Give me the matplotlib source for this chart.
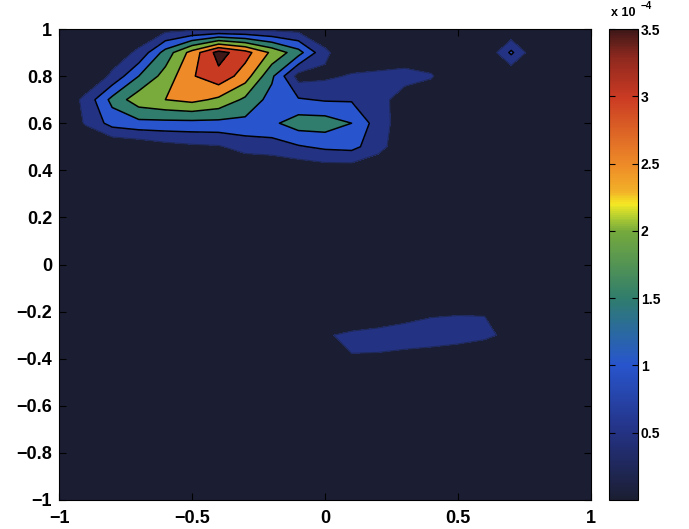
import numpy as np
import matplotlib
matplotlib.use("Agg")
import matplotlib.pyplot as plt
from matplotlib.colors import LinearSegmentedColormap, Normalize
from matplotlib.cm import ScalarMappable

# ---- data (values in units of 1e-4) ----
x_grid = np.linspace(-1.0, 1.0, 21)
y_grid = np.linspace(-1.0, 1.0, 21)

z = [0.0] * 21
row_m10 = list(z); row_m09 = list(z); row_m08 = list(z); row_m07 = list(z)
row_m06 = list(z); row_m05 = list(z)
#             -1.0 -0.9 -0.8 -0.7 -0.6 -0.5 -0.4 -0.3 -0.2 -0.1 0.0  0.1  0.2  0.3  0.4  0.5  0.6  0.7  0.8  0.9  1.0
row_m04 = [0, 0, 0, 0, 0, 0, 0, 0, 0, 0.2, 0.5, 0.47, 0.42, 0.3, 0.15, 0, 0, 0, 0, 0, 0]
row_m03 = [0, 0, 0, 0, 0, 0, 0, 0, 0, 0, 0.45, 0.6, 0.72, 0.8, 0.85, 0.8, 0.62, 0.35, 0, 0, 0]
row_m02 = [0, 0, 0, 0, 0, 0, 0, 0, 0, 0, 0, 0, 0, 0.2, 0.38, 0.44, 0.47, 0.3, 0, 0, 0]
row_m01 = list(z); row_p00 = list(z); row_p01 = list(z); row_p02 = list(z); row_p03 = list(z)
row_p04 = [0, 0, 0, 0, 0, 0, 0, 0, 0.05, 0.1, 0.2, 0.2, 0.05, 0, 0, 0, 0, 0, 0, 0, 0]
row_p05 = [0, 0, 0, 0.1, 0.3, 0.4, 0.45, 0.7, 0.75, 0.95, 1.1, 1.15, 0.7, 0.1, 0, 0, 0, 0, 0, 0, 0]
row_p06 = [0, 0.55, 1.2, 1.35, 1.35, 1.35, 1.35, 1.35, 1.4, 1.75, 1.75, 1.5, 0.75, 0.2, 0, 0, 0, 0, 0, 0, 0]
row_p07 = [0, 0.65, 1.65, 2.3, 2.5, 2.65, 2.4, 1.9, 1.3, 1.05, 0.95, 0.95, 0.65, 0.3, 0.1, 0, 0, 0, 0, 0, 0]
row_p08 = [0, 0, 0.6, 1.5, 2.2, 2.95, 3.35, 2.75, 1.6, 0.3, 0.4, 0.55, 0.6, 0.65, 0.55, 0, 0, 0, 0, 0, 0]
row_p09 = [0, 0, 0.2, 0.6, 1.7, 2.7, 3.7, 3.2, 2.4, 1.7, 0.6, 0.1, 0.15, 0.2, 0.1, 0, 0, 1.1, 0, 0, 0]
row_p10 = [0, 0, 0, 0.1, 0.3, 0.35, 0.35, 0.35, 0.35, 0.3, 0.1, 0, 0, 0, 0, 0, 0, 0, 0, 0, 0]

Z = np.array([row_m10, row_m09, row_m08, row_m07, row_m06, row_m05, row_m04,
              row_m03, row_m02, row_m01, row_p00, row_p01, row_p02, row_p03,
              row_p04, row_p05, row_p06, row_p07, row_p08, row_p09, row_p10])

levels = [0.0, 0.5, 1.0, 1.5, 2.0, 2.5, 3.0, 3.5, 4.0]
line_levels = [1.0, 1.5, 2.0, 2.5, 3.0, 3.5]
cbar_ticks = [0.5, 1.0, 1.5, 2.0, 2.5, 3.0, 3.5]
cbar_labels = ["0.5", "1", "1.5", "2", "2.5", "3", "3.5"]
x_ticks = [-1, -0.5, 0, 0.5, 1]
x_labels = ["\u22121", "\u22120.5", "0", "0.5", "1"]
y_ticks = [-1, -0.8, -0.6, -0.4, -0.2, 0, 0.2, 0.4, 0.6, 0.8, 1]
y_labels = ["\u22121", "\u22120.8", "\u22120.6", "\u22120.4", "\u22120.2", "0",
            "0.2", "0.4", "0.6", "0.8", "1"]

# ---- colormap (scanned MATLAB jet look) ----
cm_pts = [
    (0.00, (27, 30, 50)),
    (0.5 / 3.5, (36, 50, 132)),
    (1.0 / 3.5, (40, 85, 205)),
    (1.25 / 3.5, (42, 105, 160)),
    (1.5 / 3.5, (48, 125, 108)),
    (2.0 / 3.5, (118, 170, 60)),
    (2.1 / 3.5, (175, 205, 50)),
    (2.2 / 3.5, (245, 232, 35)),
    (2.3 / 3.5, (242, 175, 40)),
    (2.5 / 3.5, (238, 138, 40)),
    (3.0 / 3.5, (202, 58, 35)),
    (3.3 / 3.5, (140, 40, 30)),
    (1.00, (62, 24, 24)),
]
cmap = LinearSegmentedColormap.from_list(
    "jetscan", [(p, tuple(c / 255 for c in col)) for p, col in cm_pts])
norm = Normalize(vmin=0.0, vmax=3.5)
band_colors = [cmap(norm(min(lv, 3.5))) for lv in levels[:-1]]

plt.rcParams['font.family'] = ['Liberation Sans', 'DejaVu Sans']

fig = plt.figure(figsize=(6.89, 5.29), dpi=100)
ax = fig.add_axes([59 / 689, 29 / 529, 532 / 689, 471 / 529])
X, Y = np.meshgrid(x_grid, y_grid)
ax.contourf(X, Y, Z, levels=levels, colors=band_colors)
ax.contour(X, Y, Z, levels=line_levels, colors='black', linewidths=1.1)
ax.contour(X, Y, Z, levels=[0.5], colors=[(0.12, 0.16, 0.35)], linewidths=0.8)
ax.set_xlim(-1, 1)
ax.set_ylim(-1, 1)
ax.set_xticks(x_ticks)
ax.set_xticklabels(x_labels)
ax.set_yticks(y_ticks)
ax.set_yticklabels(y_labels)
ax.tick_params(direction='in', length=5, labelsize=13, pad=5,
               top=True, right=True)
ax.tick_params(axis='x', pad=7)
for lab in ax.get_xticklabels() + ax.get_yticklabels():
    lab.set_fontweight('bold')
for s in ax.spines.values():
    s.set_linewidth(0.8)

cax = fig.add_axes([609 / 689, 29 / 529, 29 / 689, 471 / 529])
cb = fig.colorbar(ScalarMappable(norm=norm, cmap=cmap), cax=cax)
cb.set_ticks(cbar_ticks)
cb.set_ticklabels(cbar_labels)
cax.tick_params(direction='in', length=4, labelsize=10, pad=2,
                left=True, right=True)
for lab in cax.get_yticklabels():
    lab.set_fontweight('bold')
cb.outline.set_linewidth(0.8)

fig.text(611 / 689, 1 - 19 / 529, "x 10", fontsize=9, fontweight='bold',
         ha='left', va='bottom')
fig.text(641 / 689, 1 - 11 / 529, "\u22124", fontsize=7, fontweight='bold',
         ha='left', va='bottom')

fig.savefig("out.png", dpi=100)
